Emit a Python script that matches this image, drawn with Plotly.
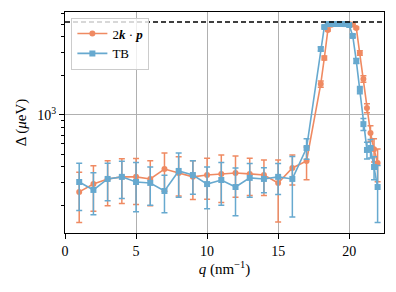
import plotly.graph_objects as go

# ---- data ----
q_kp = [1, 2, 3, 4, 5, 6, 7, 8, 9, 10, 11, 12, 13, 14, 15, 16, 17,
        18, 18.25, 18.5, 18.75, 19, 19.25, 19.5, 19.75, 20, 20.25,
        20.5, 20.75, 21, 21.25, 21.5, 21.75, 22]
gap_kp = [256, 294, 322, 334, 334, 322, 384, 358, 334, 345, 352, 358, 352, 345, 300, 391, 443,
          1731, 2743, 4508, 4950, 5000, 5010, 5010, 5010, 5000, 4960,
          4667, 2998, 1892, 1132, 727, 545, 427]
err_kp = [107, 112, 122, 126, 129, 122, 125, 120, 110, 120, 140, 125, 112, 105, 150, 102, 125,
          95, 100, 80, 40, 30, 30, 30, 30, 30, 40,
          80, 120, 110, 90, 100, 110, 120]

q_tb = [1, 2, 3, 4, 5, 6, 7, 8, 9, 10, 11, 12, 13, 14, 15, 16, 17,
        18, 18.25, 18.5, 18.75, 19, 19.25, 19.5, 19.75, 20, 20.25,
        20.5, 20.75, 21, 21.25, 21.5, 21.75, 22]
gap_tb = [305, 265, 322, 334, 305, 300, 260, 371, 345, 294, 316, 279, 328, 322, 334, 322, 557,
          3218, 4750, 5000, 5010, 5010, 5010, 5010, 5000, 4922, 4053,
          2603, 1557, 850, 538, 557, 398, 279]
err_tb = [121, 94, 103, 106, 125, 98, 83, 138, 100, 104, 114, 111, 95, 70, 90, 158, 100,
          120, 80, 40, 30, 30, 30, 30, 30, 40, 100,
          120, 100, 90, 80, 90, 80, 130]

gap_limit = 5200

x_ticks = [0, 5, 10, 15, 20]
y_ticks = [1000]
y_ticktext = ["10<sup>3</sup>"]
y_minor = [200, 300, 400, 500, 600, 700, 800, 900, 2000, 3000, 4000, 5000, 6000]

ORANGE = "#ef8a62"
BLUE = "#67a9cf"
FONT = "Liberation Serif"

fig = go.Figure()

fig.add_trace(go.Scatter(
    x=q_kp, y=gap_kp, mode="lines+markers",
    name="2<b><i>k</i></b> · <b><i>p</i></b>",
    line=dict(color=ORANGE, width=1.6),
    marker=dict(color=ORANGE, size=6, symbol="circle"),
    error_y=dict(type="data", array=err_kp, color=ORANGE, thickness=1.5, width=3),
))
fig.add_trace(go.Scatter(
    x=q_tb, y=gap_tb, mode="lines+markers",
    name="TB",
    line=dict(color=BLUE, width=1.6),
    marker=dict(color=BLUE, size=6, symbol="square"),
    error_y=dict(type="data", array=err_tb, color=BLUE, thickness=1.5, width=3),
))

fig.add_hline(y=gap_limit, line=dict(color="black", width=1.5, dash="5px,3px"))

fig.update_layout(
    width=396, height=292,
    margin=dict(l=65, r=12, t=12, b=59),
    paper_bgcolor="white", plot_bgcolor="white",
    font=dict(family=FONT, size=14, color="black"),
    showlegend=True,
    legend=dict(x=0.02, y=0.975, xanchor="left", yanchor="top",
                bgcolor="rgba(255,255,255,0.8)", bordercolor="#cccccc", borderwidth=1,
                font=dict(family=FONT, size=13), tracegroupgap=0,
                itemwidth=30),
)

fig.update_xaxes(
    range=[0, 22.45], tickvals=x_ticks, ticks="outside", ticklen=5, tickwidth=1,
    tickcolor="black", showline=True, linecolor="black", linewidth=1.2, mirror=True,
    showgrid=True, gridcolor="#b0b0b0", gridwidth=1, zeroline=False, automargin=False,
    title=dict(text="<i>q</i> (nm<sup>−1</sup>)", font=dict(family=FONT, size=15), standoff=4),
    tickfont=dict(family=FONT, size=14),
)
fig.update_yaxes(
    type="log", range=[2.092, 3.792], tickvals=y_ticks, ticktext=y_ticktext,
    ticks="outside", ticklen=5, tickwidth=1, tickcolor="black",
    showline=True, linecolor="black", linewidth=1.2, mirror=True,
    showgrid=True, gridcolor="#b0b0b0", gridwidth=1, zeroline=False, automargin=False,
    minor=dict(tickvals=y_minor, ticks="outside", ticklen=3, tickwidth=1,
               tickcolor="black", showgrid=False),
    title=dict(text="Δ (<i>μ</i>eV)", font=dict(family=FONT, size=15), standoff=6),
    tickfont=dict(family=FONT, size=14),
)

fig.write_html("out.html", config={"displayModeBar": False},
               post_script="document.body.style.margin='0';")
